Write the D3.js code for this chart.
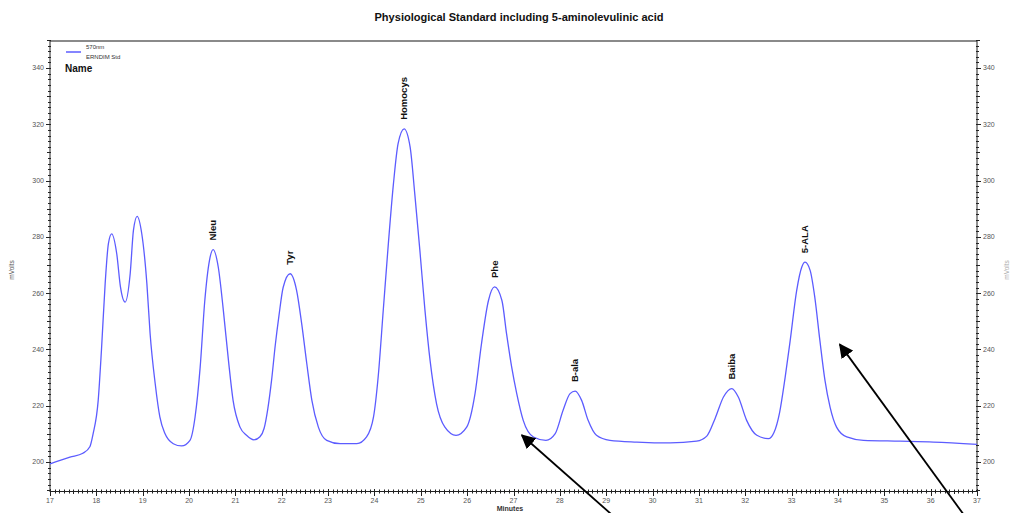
<!DOCTYPE html>
<html>
<head>
<meta charset="utf-8">
<script src="https://cdn.jsdelivr.net/npm/d3@7"></script>
<style>
  html, body { margin: 0; padding: 0; background: #fff; }
  svg { display: block; }
  text { font-family: "Liberation Sans", Arial, sans-serif; }
</style>
</head>
<body>
<svg id="chart" width="1013" height="513"></svg>
<script>
// ---- data ----
const chartTitle = "Physiological Standard including 5-aminolevulinic acid";
const seriesName = "570nm";
const seriesSub = "ERNDIM Std";
const minutes = [17.00,17.43,17.71,17.86,17.93,18.04,18.11,18.19,18.26,18.33,18.44,18.52,18.62,18.73,18.80,18.88,18.98,19.09,19.16,19.27,19.37,19.48,19.66,19.84,20.02,20.13,20.24,20.34,20.44,20.52,20.63,20.74,20.85,20.95,21.10,21.24,21.40,21.53,21.62,21.70,21.78,21.86,21.94,22.03,22.18,22.32,22.43,22.54,22.65,22.79,22.97,23.26,23.62,23.83,23.98,24.08,24.19,24.30,24.41,24.51,24.64,24.77,24.87,24.98,25.09,25.20,25.34,25.52,25.76,25.99,26.17,26.31,26.46,26.59,26.75,26.85,26.96,27.07,27.21,27.43,27.70,27.90,28.07,28.22,28.33,28.47,28.61,28.79,29.08,29.66,30.38,30.95,31.17,31.35,31.53,31.71,31.85,32.03,32.25,32.50,32.62,32.74,32.86,32.97,33.11,33.22,33.29,33.40,33.50,33.61,33.72,33.83,33.97,34.19,34.55,35.34,36.06,37.00];
const mVolts = [199.3,201.7,203.1,205.4,210.0,221.9,239.7,263.4,277.6,281.1,274.0,262.2,256.8,266.9,282.3,287.3,281.1,263.4,245.6,227.8,216.0,210.1,206.5,205.7,207.7,216.0,233.7,257.4,271.6,275.5,269.3,253.9,236.1,221.9,212.4,209.5,207.9,209.0,212.0,219.0,229.0,241.5,252.0,262.0,266.9,261.0,249.2,235.0,221.9,212.4,207.7,206.5,206.5,208.9,216.0,230.2,253.9,277.6,298.9,313.1,318.4,311.9,295.3,275.2,253.9,236.1,220.7,212.4,209.5,212.4,224.3,242.1,257.4,262.2,257.4,245.6,233.8,224.3,214.8,208.9,207.7,210.1,218.4,224.3,225.2,221.9,214.8,209.5,207.7,207.1,206.8,207.4,209.2,215.5,223.1,226.1,223.1,214.8,209.5,208.3,210.5,217.5,230.0,243.2,261.0,269.3,271.0,268.1,258.6,243.2,229.0,219.5,212.4,208.9,207.7,207.4,207.1,206.3];
const peakNames = ["Nleu","Tyr","Homocys","Phe","B-ala","Baiba","5-ALA"];
const peakTimes = [20.52,22.18,24.64,26.59,28.33,31.71,33.29];
const peakValues = [275.5,266.9,318.4,262.2,225.2,226.1,271.0];
const yTickLabels = [200,220,240,260,280,300,320,340];
const xTickLabels = [17,18,19,20,21,22,23,24,25,26,27,28,29,30,31,32,33,34,35,36,37];
// annotation arrows [minutes, mVolts]
const arrowTails = [[29.10,181.6],[36.70,181.6]];
const arrowTips = [[27.18,209.5],[34.04,241.8]];

// ---- layout ----
const svg = d3.select("#chart");
const L = 50, R = 977, T = 41, B = 491;
const x = d3.scaleLinear().domain([17, 37]).range([L, R]);
const y = d3.scaleLinear().domain([189.7, 349.6]).range([B, T]);
const axisCol = "#222", labCol = "#555", lineCol = "#5c5cff";

// title
svg.append("text").attr("x", 519).attr("y", 21).attr("text-anchor", "middle")
  .attr("font-size", 11).attr("font-weight", "bold").attr("fill", "#111")
  .attr("textLength", 289).attr("lengthAdjust", "spacingAndGlyphs")
  .text(chartTitle);

// frame
svg.append("line").attr("x1", L).attr("x2", R).attr("y1", T).attr("y2", T)
  .attr("stroke", "#8a8a8a").attr("stroke-width", 2);

// y axes with minor ticks
const yMinor = d3.range(190, 350.1, 2);
function yAxis(xPos, dir) {
  const g = svg.append("g");
  g.append("line").attr("x1", xPos).attr("x2", xPos).attr("y1", T).attr("y2", B + 1)
    .attr("stroke", axisCol).attr("stroke-width", 1);
  yMinor.forEach(v => {
    const major = v % 20 === 0, mid = v % 10 === 0;
    const len = major ? 4 : (mid ? 3 : 2);
    g.append("line").attr("x1", xPos - (dir < 0 ? len : 1)).attr("x2", xPos + (dir > 0 ? len : 1))
      .attr("y1", Math.round(y(v)) + 0.5).attr("y2", Math.round(y(v)) + 0.5)
      .attr("stroke", axisCol).attr("stroke-width", 1);
  });
  g.selectAll("text.yl").data(yTickLabels).join("text")
    .attr("x", xPos + dir * 6).attr("y", d => y(d)).attr("dy", "0.35em")
    .attr("text-anchor", dir < 0 ? "end" : "start")
    .attr("font-size", 7).attr("fill", labCol).text(d => d);
}
yAxis(L, -1);
yAxis(R, 1);

// x axis
const gx = svg.append("g");
gx.append("line").attr("x1", L).attr("x2", R).attr("y1", B + 0.5).attr("y2", B + 0.5)
  .attr("stroke", axisCol).attr("stroke-width", 1.2);
d3.range(0, 201).forEach(i => {
  const t = 17 + i / 10;
  const major = i % 10 === 0, mid = i % 5 === 0;
  const xp = Math.round(x(t)) + 0.5;
  gx.append("line").attr("x1", xp).attr("x2", xp)
    .attr("y1", B - (major ? 2 : 1.5)).attr("y2", B + (major ? 5 : (mid ? 3 : 2.5)))
    .attr("stroke", axisCol).attr("stroke-width", 1);
});
gx.selectAll("text").data(xTickLabels).join("text")
  .attr("x", d => x(d)).attr("y", 503).attr("text-anchor", "middle")
  .attr("font-size", 7).attr("fill", labCol).text(d => d);

// axis titles
svg.append("text").attr("transform", "translate(14,270) rotate(-90)")
  .attr("text-anchor", "middle").attr("font-size", 6.5).attr("fill", labCol).text("mVolts");
svg.append("text").attr("transform", "translate(1009,270) rotate(-90)")
  .attr("text-anchor", "middle").attr("font-size", 6.5).attr("fill", "#aaa").text("mVolts");
svg.append("text").attr("x", 510).attr("y", 511).attr("text-anchor", "middle")
  .attr("font-size", 7).attr("font-weight", "bold").attr("fill", "#333").text("Minutes");

// trace
const pts = minutes.map((m, i) => [m, mVolts[i]]);
svg.append("path").datum(pts)
  .attr("d", d3.line().x(d => x(d[0])).y(d => y(d[1])).curve(d3.curveMonotoneX))
  .attr("fill", "none").attr("stroke", lineCol).attr("stroke-width", 1.3);

// legend
svg.append("line").attr("x1", 66).attr("x2", 81).attr("y1", 52).attr("y2", 52)
  .attr("stroke", lineCol).attr("stroke-width", 1.5);
svg.append("text").attr("x", 86).attr("y", 49).attr("font-size", 6).attr("fill", "#333").text(seriesName);
svg.append("text").attr("x", 86).attr("y", 59).attr("font-size", 6).attr("fill", "#333").text(seriesSub);
svg.append("text").attr("x", 65).attr("y", 72).attr("font-size", 10).attr("font-weight", "bold")
  .attr("fill", "#111").text("Name");

// peak labels
svg.selectAll("text.peak").data(peakNames).join("text")
  .attr("class", "peak")
  .attr("transform", (d, i) => `translate(${x(peakTimes[i])},${y(peakValues[i]) - 9}) rotate(-90)`)
  .attr("dy", "0.35em").attr("font-size", 9.5).attr("font-weight", "bold").attr("fill", "#111")
  .text(d => d);

// arrows
const defs = svg.append("defs");
defs.append("marker").attr("id", "ah").attr("viewBox", "0 0 10 10")
  .attr("refX", 9).attr("refY", 5).attr("markerWidth", 8).attr("markerHeight", 8)
  .attr("markerUnits", "strokeWidth").attr("orient", "auto")
  .append("path").attr("d", "M0,0 L10,5 L0,10 Z").attr("fill", "#000");
arrowTails.forEach((tl, i) => {
  svg.append("line")
    .attr("x1", x(tl[0])).attr("y1", y(tl[1]))
    .attr("x2", x(arrowTips[i][0])).attr("y2", y(arrowTips[i][1]))
    .attr("stroke", "#000").attr("stroke-width", 1.8).attr("marker-end", "url(#ah)");
});
</script>
</body>
</html>
